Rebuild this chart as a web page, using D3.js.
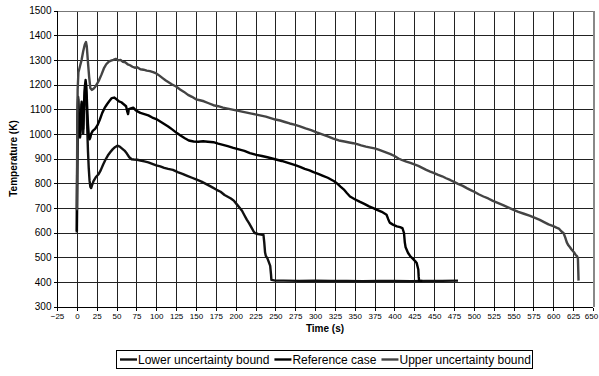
<!DOCTYPE html>
<html>
<head>
<meta charset="utf-8">
<script src="https://cdn.jsdelivr.net/npm/d3@7"></script>
<style>
  html, body { margin: 0; padding: 0; background: #fff; }
  svg { display: block; font-family: Arial, "Liberation Sans", sans-serif; }
</style>
</head>
<body>
<svg id="chart" width="599" height="376"></svg>
<script>
// Temperature histories (time in s, temperature in K)
const lowerBound = [
  [0,600],[0.4,830],[1,1060],[1.6,1140],[2.4,1060],[3.2,1000],[4,985],[5,1050],[6,1120],[7,1040],
  [8,1000],[9,1100],[10,1170],[11,1200],[12,1150],[13,1030],[14,930],[15,860],[16,810],[17,785],
  [18,780],[19,790],[21,808],[24,825],[27,835],[30,852],[33,875],[36,895],[39,912],[42,925],
  [45,937],[48,946],[51,952],[54,948],[57,940],[60,932],[63,920],[66,905],[69,897],[72,896],
  [76,895],[80,892],[85,888],[90,884],[95,878],[100,872],[105,868],[110,862],[115,858],[121,854],
  [127,845],[133,838],[139,830],[145,822],[151,814],[157,806],[163,796],[169,786],[176,773],[181,765],
  [186,752],[190,745],[194,738],[198,728],[202,712],[205,700],[208,688],[211,670],[214,652],[217,637],
  [220,620],[222,608],[224,598],[228,594],[232,592],[235,590],[236,560],[237,520],[238,505],[240,495],
  [242,478],[243.5,465],[244.5,430],[245,408],[250,405],[260,405],[280,404],[300,405],[320,404],[340,404],
  [360,403],[380,404],[400,404],[420,403],[440,404],[460,404],[480,405]
];

const referenceCase = [
  [0,605],[0.4,850],[1,1080],[1.6,1150],[2.4,1080],[3.2,1010],[4,990],[5,1060],[6,1130],[7,1060],
  [8,1020],[9,1120],[10,1190],[11,1218],[12,1190],[13,1110],[14,1040],[15,995],[16,978],[17,985],
  [18,1000],[20,1012],[23,1020],[26,1035],[29,1058],[32,1085],[35,1105],[38,1120],[41,1133],[44,1145],
  [47,1147],[50,1140],[53,1132],[56,1128],[59,1120],[62,1112],[63.5,1090],[64.5,1080],[65.5,1100],[68,1103],
  [71,1106],[74,1096],[77,1090],[80,1085],[85,1080],[90,1075],[95,1066],[100,1060],[105,1050],[110,1040],
  [115,1030],[120,1018],[126,1003],[131,992],[136,982],[141,973],[147,969],[153,968],[159,970],[165,968],
  [172,966],[178,960],[184,955],[190,950],[197,943],[204,937],[211,931],[218,922],[226,915],[233,910],
  [240,905],[246,900],[252,895],[258,890],[264,884],[270,878],[276,872],[281,866],[287,858],[293,852],
  [298,845],[304,838],[310,830],[316,822],[320,815],[324,808],[328,798],[332,786],[336,775],[340,760],
  [344,746],[350,735],[356,725],[362,716],[368,706],[374,698],[378,692],[384,684],[390,672],[392,655],
  [394,640],[398,632],[403,625],[407,622],[410,618],[412,598],[413,560],[414,540],[417,518],[420,503],
  [423,494],[426,484],[428,476],[430,450],[430.5,420],[431,405],[435,404]
];

const upperBound = [
  [0,690],[0.5,1000],[1,1180],[2,1250],[3,1262],[4,1275],[6,1300],[8,1335],[10,1362],[11.5,1372],
  [12.5,1355],[14,1290],[15.5,1230],[17,1185],[19,1178],[21,1183],[23,1190],[25,1200],[28,1218],[31,1240],
  [34,1265],[37,1282],[40,1292],[43,1297],[46,1300],[49,1304],[52,1298],[55,1300],[58,1292],[61,1290],
  [64,1282],[67,1278],[70,1272],[73,1268],[76,1270],[80,1262],[84,1260],[88,1256],[92,1254],[96,1250],
  [100,1245],[104,1236],[108,1226],[112,1216],[116,1208],[120,1200],[125,1192],[130,1180],[135,1170],[140,1158],
  [145,1150],[150,1140],[155,1136],[160,1132],[166,1124],[172,1116],[178,1112],[184,1106],[190,1102],[196,1098],
  [202,1094],[208,1090],[214,1086],[220,1082],[226,1078],[232,1074],[238,1070],[244,1064],[250,1058],[256,1054],
  [262,1048],[268,1042],[274,1037],[281,1030],[288,1022],[295,1015],[302,1006],[309,998],[316,990],[323,981],
  [330,973],[337,969],[343,965],[348,962],[353,958],[358,953],[364,948],[370,944],[375,941],[380,936],
  [385,930],[390,924],[395,918],[400,910],[405,900],[410,893],[415,887],[420,882],[425,876],[430,870],
  [435,862],[440,854],[445,847],[450,841],[455,834],[460,828],[465,820],[470,813],[475,805],[480,797],
  [486,789],[491,780],[496,772],[501,764],[506,755],[512,746],[518,738],[524,728],[530,720],[536,712],
  [543,702],[550,692],[556,684],[563,676],[570,668],[577,659],[583,651],[589,641],[594,633],[600,626],
  [604,620],[607,616],[610,605],[613,597],[615,580],[617,560],[619,548],[621,540],[623,531],[626,520],
  [628,510],[630,503],[631,495],[631.5,440],[631.8,405]
];

const seriesNames = ["Lower uncertainty bound", "Reference case", "Upper uncertainty bound"];
const seriesColors = ["#111111", "#000000", "#444444"];

const xTicks = d3.range(-25, 651, 25);
const yTicks = d3.range(300, 1501, 100);

const svg = d3.select("#chart");
const plotLeft = 57, plotRight = 593, plotTop = 10.5, plotBottom = 306.5;

const x = d3.scaleLinear().domain([-25, 650]).range([plotLeft, plotRight]);
const y = d3.scaleLinear().domain([300, 1500]).range([plotBottom, plotTop]);

// grid
const grid = svg.append("g").attr("shape-rendering", "crispEdges");
grid.selectAll("line.v").data(xTicks.slice(1)).join("line")
  .attr("x1", d => Math.round(x(d)) + 0.5).attr("x2", d => Math.round(x(d)) + 0.5)
  .attr("y1", plotTop).attr("y2", plotBottom)
  .attr("stroke", d => d === 650 ? "#888" : "#222").attr("stroke-width", d => d === 650 ? 2 : 1);
grid.selectAll("line.h").data(yTicks.slice(1)).join("line")
  .attr("x1", plotLeft).attr("x2", plotRight)
  .attr("y1", d => Math.round(y(d)) + 0.5).attr("y2", d => Math.round(y(d)) + 0.5)
  .attr("stroke", d => d === 1500 ? "#777" : "#222").attr("stroke-width", 1);

// axes
const xAxis = d3.axisBottom(x).tickValues(xTicks).tickSize(3).tickPadding(3).tickFormat(d3.format("d"));
const yAxis = d3.axisLeft(y).tickValues(yTicks).tickSize(4).tickPadding(2).tickFormat(d3.format("d"));

const gx = svg.append("g").attr("transform", `translate(0,${Math.round(plotBottom) + 0.5})`).call(xAxis);
const gy = svg.append("g").attr("transform", `translate(${Math.round(plotLeft) + 0.5},0)`).call(yAxis);
[gx, gy].forEach(g => {
  g.selectAll("path.domain").attr("stroke", "#000").attr("shape-rendering", "crispEdges");
  g.selectAll(".tick line").attr("stroke", "#000").attr("shape-rendering", "crispEdges");
  g.selectAll("text").attr("fill", "#000").attr("font-family", "Arial, 'Liberation Sans', sans-serif");
});
gx.selectAll("text").attr("font-size", 8);
// keep the last time label inside the canvas
gx.selectAll(".tick text").filter(d => d === 650).attr("dx", -2);
gy.selectAll("text").attr("font-size", 10);
gx.select("path.domain").attr("d", `M${plotLeft},0H${plotRight}`);
gy.select("path.domain").attr("d", `M0,${plotTop}V${plotBottom}`);

// series
const line = d3.line().x(d => x(d[0])).y(d => y(d[1]));
const allSeries = [lowerBound, referenceCase, upperBound];
svg.append("g").selectAll("path").data(allSeries).join("path")
  .attr("d", line)
  .attr("fill", "none")
  .attr("stroke", (d, i) => seriesColors[i])
  .attr("stroke-width", 2.4)
  .attr("stroke-linejoin", "round")
  .attr("stroke-linecap", "butt");

// axis titles
svg.append("text")
  .attr("x", (plotLeft + plotRight) / 2).attr("y", 332)
  .attr("text-anchor", "middle")
  .attr("font-size", 10).attr("font-weight", "bold")
  .text("Time (s)");
svg.append("text")
  .attr("transform", `translate(17,${(plotTop + plotBottom) / 2}) rotate(-90)`)
  .attr("text-anchor", "middle")
  .attr("font-size", 10).attr("font-weight", "bold")
  .text("Temperature (K)");

// legend
const legend = svg.append("g");
legend.append("rect")
  .attr("x", 116.5).attr("y", 350.5).attr("width", 416).attr("height", 18)
  .attr("fill", "#fff").attr("stroke", "#000").attr("stroke-width", 1);
let lx = 120;
seriesNames.forEach((name, i) => {
  legend.append("line")
    .attr("x1", lx).attr("x2", lx + 17).attr("y1", 359.5).attr("y2", 359.5)
    .attr("stroke", seriesColors[i]).attr("stroke-width", 2.4);
  const t = legend.append("text")
    .attr("x", lx + 18).attr("y", 363.8)
    .attr("font-size", 12).attr("fill", "#000")
    .text(name);
  lx += 18 + t.node().getComputedTextLength() + 5;
});
</script>
</body>
</html>
